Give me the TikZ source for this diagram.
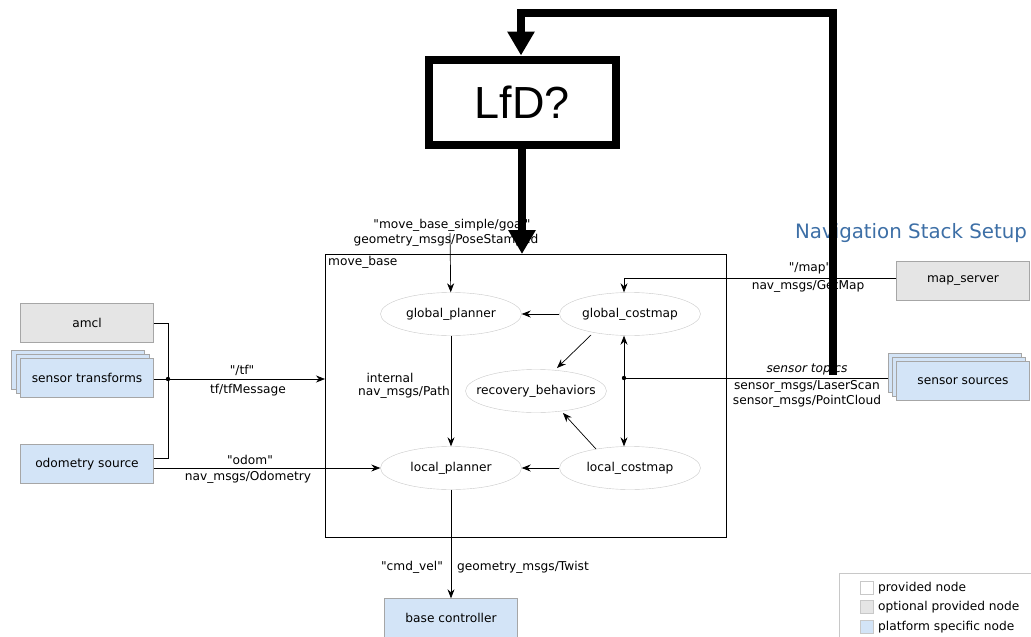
\documentclass[tikz,border=0pt]{standalone}
\usepackage{fontspec}
\setmainfont{DejaVu Sans}[Ligatures=TeXOff]
\newfontfamily\lfdfont{Liberation Sans}
\usepackage{xcolor}
\usetikzlibrary{shapes.geometric,arrows.meta,positioning,calc}

\definecolor{optgray}{HTML}{E5E5E5}
\definecolor{platblue}{HTML}{D3E4F7}
\definecolor{boxline}{HTML}{A6A6A6}
\definecolor{ellline}{HTML}{C8C8C8}
\definecolor{titleblue}{HTML}{3D6FA6}

\begin{document}
\begin{tikzpicture}[
    x=1pt, y=-1pt,
    font=\fontsize{12.2}{14}\selectfont,
    proc/.style={ellipse, draw=ellline, minimum width=141pt, minimum height=43pt, inner xsep=-20pt, inner ysep=0pt},
    nodebox/.style={rectangle, draw=boxline, fill=#1, minimum width=133pt, minimum height=39pt, inner sep=0pt},
    msg/.style={inner sep=0pt, align=center},
    arrow/.style={-{Stealth[length=9pt,width=7pt]}, line width=0.7pt},
    wire/.style={line width=0.7pt},
    bigarrow/.style={-{Triangle[length=24pt,width=26pt]}, line width=8pt},
    swatch/.style={rectangle, draw=ellline, fill=#1, minimum size=13pt, inner sep=0pt}
]
\useasboundingbox (0,0) rectangle (1031,637);

% LfD block
\node[draw, line width=8pt, minimum width=187pt, minimum height=85pt, font=\lfdfont\fontsize{45}{50}\selectfont] (lfd) at (522,102) {LfD?};

% move_base frame
\draw[line width=1pt] (325,254) rectangle (726,537);
\node[msg, anchor=north west] (mb) at (328,256) {move\_base};

% Processes inside move_base
\node[proc] (gplan) at (451,314) {global\_planner};
\node[proc] (gcost) at (630,314) {global\_costmap};
\node[proc] (recov) at (536,391) {recovery\_behaviors};
\node[proc] (lplan) at (451,468) {local\_planner};
\node[proc] (lcost) at (630,468) {local\_costmap};

% Left side nodes
\node[nodebox=optgray] (amcl) at (87,323) {amcl};
\node[nodebox=platblue] (st3) at (78,370) {};
\node[nodebox=platblue] (st2) at (83,374) {};
\node[nodebox=platblue] (st) at (87,378) {sensor transforms};
\node[nodebox=platblue] (odom) at (87,464) {odometry source};

% Right side nodes
\node[nodebox=optgray] (map) at (963,281) {map\_server};
\node[nodebox=platblue] (ss3) at (955,373) {};
\node[nodebox=platblue] (ss2) at (959,377) {};
\node[nodebox=platblue] (ss) at (963,381) {sensor sources};
\node[nodebox=platblue] (base) at (451,618) {base controller};

\node[msg, text=titleblue, font=\fontsize{19.8}{22}\selectfont] (title) at (911,233) {Navigation Stack Setup};

% Topic labels
\node[msg] (goal1) at (452,225) {"move\_base\_simple/goal"};
\node[msg] (goal2) at (446,240) {geometry\_msgs/PoseStamped};
\node[msg] (tf1) at (242,370) {"/tf"};
\node[msg] (tf2) at (248,390) {tf/tfMessage};
\node[msg] (odom1) at (250,460) {"odom"};
\node[msg] (odom2) at (248,477) {nav\_msgs/Odometry};
\node[msg] (int1) at (390,378) {internal};
\node[msg] (int2) at (404,392) {nav\_msgs/Path};
\node[msg] (map1) at (810,268) {"/map"};
\node[msg] (map2) at (808,286) {nav\_msgs/GetMap};
\node[msg, font=\fontsize{12.2}{14}\selectfont\itshape] (sens1) at (807,369) {sensor topics};
\node[msg] (sens2) at (807,386) {sensor\_msgs/LaserScan};
\node[msg] (sens3) at (807,401) {sensor\_msgs/PointCloud};
\node[msg] (cmd1) at (412,567) {"cmd\_vel"};
\node[msg] (cmd2) at (523,567) {geometry\_msgs/Twist};

% Junctions
\coordinate (tfj) at (168,379);
\coordinate (sj) at (624,378);
\coordinate (goaltop) at (450,233);
\coordinate (mbleft) at (325,379);
\fill (tfj) circle (2.2pt);
\fill (sj) circle (2.2pt);

% tf and odom wiring
\draw[wire] (amcl.east) -| (tfj);
\draw[wire] (odom.east |- 0,458) -| (tfj);
\draw[wire] (st.east |- tfj) -- (tfj);
\draw[arrow] (tfj) -- (mbleft);
\draw[arrow] (odom.east |- lplan) -- (lplan);

% goal, map and sensors
\draw[arrow] (goaltop) -- (gplan);
\draw[arrow] (map.west |- 0,278) -| (gcost.north -| sj);
\draw[wire] (ss3.west |- sj) -- (sj);
\draw[arrow] (sj) -- (gcost.south -| sj);
\draw[arrow] (sj) -- (lcost.north -| sj);

% internal arrows
\draw[arrow] (gcost) -- (gplan);
\draw[arrow] (lcost) -- (lplan);
\draw[arrow] (gplan) -- (lplan);
\draw[arrow] ($(gcost)+(-39,21)$) -- ($(recov)+(21,-23)$);
\draw[arrow] ($(lcost)+(-34,-19)$) -- ($(recov)+(27,22)$);
\draw[arrow] (lplan) -- (base);

% LfD loop
\coordinate (loopstart) at (833,375);
\coordinate (mbtop) at (522,254);
\draw[bigarrow] (loopstart) -- (833,13) -| (lfd.north -| 521,0);
\draw[bigarrow] (lfd.south) -- (mbtop);

% Legend
\draw[draw=ellline] (839,660) -- (839,573) -- (1040,573);
\node[swatch=white] (lg1) at (867,588) {};
\node[swatch=optgray] (lg2) at (867,607) {};
\node[swatch=platblue] (lg3) at (867,627) {};
\node[msg, anchor=west] (lt1) at (878,588) {provided node};
\node[msg, anchor=west] (lt2) at (878,607) {optional provided node};
\node[msg, anchor=west] (lt3) at (878,627) {platform specific node};

\end{tikzpicture}
\end{document}
